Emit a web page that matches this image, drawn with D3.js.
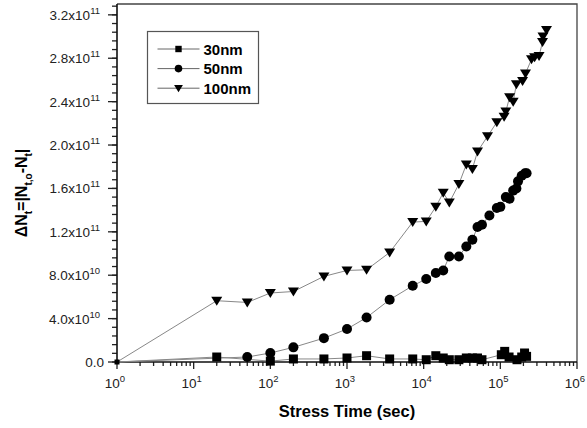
<!DOCTYPE html>
<html>
<head>
<meta charset="utf-8">
<script src="https://cdn.jsdelivr.net/npm/d3@7"></script>
<style>
  body { margin: 0; background: #fff; }
  text { font-family: "Liberation Sans", Arial, sans-serif; }
</style>
</head>
<body>
<svg id="chart" width="587" height="428"></svg>
<script>
// stress time (s) and delta Nt values
const t30 = [1, 20, 100, 200, 500, 1000, 1800, 3600, 7200, 10800, 14400, 18000, 21600, 28800, 36000, 43200, 50400, 57600, 103000, 114000, 130000, 165000, 190000, 207000, 220000];
const n30 = [0, 4.6e9, 0.8e9, 2.8e9, 2.8e9, 3.7e9, 5.8e9, 2.8e9, 2.8e9, 2.1e9, 5.8e9, 3.7e9, 2.1e9, 2.1e9, 3.7e9, 3.7e9, 3.7e9, 2.1e9, 6.7e9, 9.8e9, 4.6e9, 2.1e9, 4.6e9, 8.3e9, 5.2e9];

const t50 = [1, 50, 100, 200, 500, 1000, 1800, 3600, 7200, 10800, 14400, 18000, 21600, 28800, 36000, 43200, 50400, 57600, 72000, 90000, 100000, 118000, 132000, 147000, 162000, 170000, 190000, 210000, 220000];
const n50 = [0, 0.46e10, 0.83e10, 1.35e10, 2.2e10, 3.04e10, 4.1e10, 5.74e10, 7.03e10, 7.65e10, 8.2e10, 8.44e10, 9.73e10, 9.73e10, 10.65e10, 11.27e10, 12.44e10, 12.65e10, 13.51e10, 14.2e10, 14.3e10, 15.2e10, 15.05e10, 15.8e10, 16.0e10, 16.65e10, 17.17e10, 17.4e10, 17.4e10];

const t100 = [1, 20, 50, 100, 200, 500, 1000, 1800, 3600, 7200, 10800, 14400, 18000, 21600, 28800, 36000, 43200, 50400, 68000, 90000, 112000, 118000, 132000, 147000, 162000, 195000, 213000, 255000, 280000, 320000, 355000, 360000, 400000];
const n100 = [0, 5.65e10, 5.49e10, 6.36e10, 6.5e10, 7.89e10, 8.44e10, 8.5e10, 10.1e10, 12.9e10, 12.96e10, 14.3e10, 15.6e10, 14.7e10, 16.4e10, 18.2e10, 17.8e10, 19.4e10, 20.8e10, 22.1e10, 22.6e10, 23.1e10, 24.4e10, 24.0e10, 25.6e10, 25.9e10, 26.6e10, 27.9e10, 28.1e10, 28.2e10, 29.5e10, 30.0e10, 30.6e10];

const seriesNames = ['30nm', '50nm', '100nm'];
const yTicks = [0, 4e10, 8e10, 1.2e11, 1.6e11, 2.0e11, 2.4e11, 2.8e11, 3.2e11];
const xTickExps = [0, 1, 2, 3, 4, 5, 6];

const svg = d3.select('#chart');
const margin = {top: 4, right: 10, bottom: 66, left: 117};
const width = +svg.attr('width');
const height = +svg.attr('height');
const innerW = width - margin.left - margin.right;
const innerH = height - margin.top - margin.bottom;

const g = svg.append('g').attr('transform', `translate(${margin.left}, ${margin.top})`);

const x = d3.scaleLog().domain([1, 1e6]).range([0, innerW]);
const y = d3.scaleLinear().domain([0, 3.3e11]).range([innerH, 0]);

// frame (top + right)
g.append('path')
  .attr('d', `M0,0H${innerW}V${innerH}`)
  .attr('fill', 'none').attr('stroke', '#444').attr('stroke-width', 1.3);

// ticks
const yMinor = d3.range(0, 3.3e11, 8e9);
g.selectAll('.ymin').data(yMinor).enter().append('line')
  .attr('x1', -5).attr('x2', 0)
  .attr('y1', d => y(d)).attr('y2', d => y(d))
  .attr('stroke', '#222').attr('stroke-width', 1.3);
g.selectAll('.ymaj').data(yTicks).enter().append('line')
  .attr('x1', -9).attr('x2', 0)
  .attr('y1', d => y(d)).attr('y2', d => y(d))
  .attr('stroke', '#222').attr('stroke-width', 1.3);

const xMinor = [];
for (let k = 0; k < 6; k++) for (let m = 2; m < 10; m++) xMinor.push(m * Math.pow(10, k));
g.selectAll('.xmin').data(xMinor).enter().append('line')
  .attr('x1', d => x(d)).attr('x2', d => x(d))
  .attr('y1', innerH).attr('y2', innerH + 4)
  .attr('stroke', '#222').attr('stroke-width', 1.3);
g.selectAll('.xmaj').data(xTickExps).enter().append('line')
  .attr('x1', d => x(Math.pow(10, d))).attr('x2', d => x(Math.pow(10, d)))
  .attr('y1', innerH).attr('y2', innerH + 7)
  .attr('stroke', '#222').attr('stroke-width', 1.3);

// axes lines
g.append('path')
  .attr('d', `M0,0V${innerH}H${innerW}`)
  .attr('fill', 'none').attr('stroke', '#111').attr('stroke-width', 1.6);

// y tick labels
const yLab = g.selectAll('.ylab').data(yTicks).enter().append('text')
  .attr('x', d => d === 0 ? -13 : -17).attr('y', d => y(d) + 5)
  .attr('text-anchor', 'end').attr('fill', '#222').style('font-size', '13.5px');
yLab.each(function(d) {
  const t = d3.select(this);
  if (d === 0) { t.text('0.0'); return; }
  const e = Math.floor(Math.log10(d) + 1e-9);
  t.append('tspan').text((d / Math.pow(10, e)).toFixed(1) + 'x10');
  t.append('tspan').attr('dy', -6).style('font-size', '9.5px').text(e);
});

// x tick labels
const xLab = g.selectAll('.xlab').data(xTickExps).enter().append('text')
  .attr('x', d => x(Math.pow(10, d)) - 2).attr('y', innerH + 26)
  .attr('text-anchor', 'middle').attr('fill', '#222').style('font-size', '13.5px');
xLab.append('tspan').text('10');
xLab.append('tspan').attr('dy', -6).style('font-size', '9.5px').text(d => d);

// axis titles
g.append('text')
  .attr('x', innerW / 2).attr('y', innerH + 55)
  .attr('text-anchor', 'middle').style('font-size', '16.5px').style('font-weight', 'bold')
  .text('Stress Time (sec)');

const yt = svg.append('text')
  .attr('transform', 'translate(27, 193) rotate(-90)')
  .attr('text-anchor', 'middle').style('font-size', '16px').style('font-weight', 'bold');
yt.append('tspan').text('\u0394N');
yt.append('tspan').attr('dy', 5).style('font-size', '10px').text('t');
yt.append('tspan').attr('dy', -5).text('=|N');
yt.append('tspan').attr('dy', 5).style('font-size', '10px').text('t,o');
yt.append('tspan').attr('dy', -5).text('-N');
yt.append('tspan').attr('dy', 5).style('font-size', '10px').text('t');
yt.append('tspan').attr('dy', -5).text('|');

// series
const symSquare = s => `M${-s},${-s}H${s}V${s}H${-s}Z`;
const symCircle = s => d3.symbol().type(d3.symbolCircle).size(Math.PI * s * s)();
const symTri = s => `M${-s * 1.1},${-s * 0.8}H${s * 1.1}L0,${s}Z`;

const series = [
  {name: seriesNames[0], t: t30, n: n30, sym: symSquare, s: 4.5, ls: 3.2},
  {name: seriesNames[1], t: t50, n: n50, sym: symCircle, s: 5, ls: 3.8},
  {name: seriesNames[2], t: t100, n: n100, sym: symTri, s: 5, ls: 4}
];

const line = d3.line().x(d => x(d[0])).y(d => y(d[1]));

series.forEach(sr => {
  const pts = sr.t.map((t, i) => [t, sr.n[i]]);
  g.append('path').datum(pts)
    .attr('d', line).attr('fill', 'none')
    .attr('stroke', '#888').attr('stroke-width', 1);
});
series.forEach(sr => {
  const pts = sr.t.map((t, i) => [t, sr.n[i]]).filter(d => d[0] > 1);
  g.selectAll(null).data(pts).enter().append('path')
    .attr('transform', d => `translate(${x(d[0])}, ${y(d[1])})`)
    .attr('d', sr.sym(sr.s)).attr('fill', '#000');
});
// origin point
g.append('path').attr('transform', `translate(${x(1)}, ${y(0)})`).attr('d', symSquare(2.5)).attr('fill', '#000');

// legend
const lg = svg.append('g').attr('transform', 'translate(147.5, 31.5)');
lg.append('rect').attr('width', 111).attr('height', 72)
  .attr('fill', '#fff').attr('stroke', '#555').attr('stroke-width', 1.2);
series.forEach((sr, i) => {
  const cy = 17.5 + i * 19.6;
  lg.append('line').attr('x1', 10).attr('x2', 52).attr('y1', cy).attr('y2', cy)
    .attr('stroke', '#666').attr('stroke-width', 1);
  lg.append('path').attr('transform', `translate(31, ${cy})`).attr('d', sr.sym(sr.ls)).attr('fill', '#000');
  lg.append('text').attr('x', 56).attr('y', cy + 5.5)
    .style('font-size', '15px').style('font-weight', 'bold').text(sr.name);
});
</script>
</body>
</html>
